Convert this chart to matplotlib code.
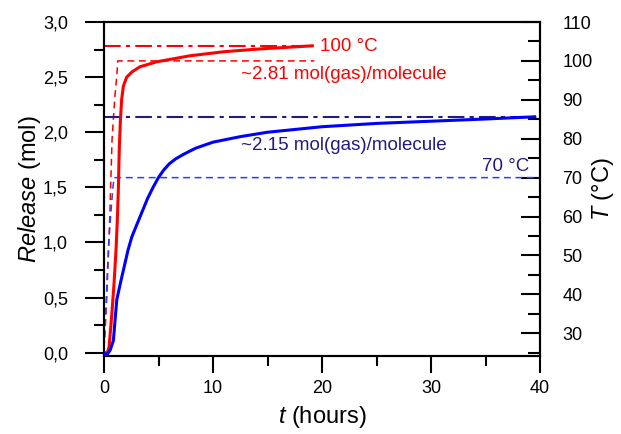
import matplotlib
matplotlib.use('Agg')
from matplotlib import pyplot as plt
from matplotlib.ticker import MultipleLocator, FuncFormatter

plt.rcParams['font.family'] = ['Liberation Sans', 'DejaVu Sans']
plt.rcParams['mathtext.fontset'] = 'custom'
plt.rcParams['mathtext.it'] = 'Liberation Sans:italic'

# release curves (mol) vs time (hours)
t_100 = [0, 0.3, 0.46, 0.7, 0.92, 1.1, 1.22, 1.32, 1.4, 1.5, 1.62, 1.78, 2.08, 2.6,
         3.3, 4.84, 7.91, 10.97, 14.04, 17.1, 19.1]
rel_100 = [0, 0.0, 0.05, 0.33, 0.63, 0.93, 1.2, 1.5, 1.85, 2.1, 2.3, 2.42, 2.5, 2.55,
           2.594, 2.639, 2.694, 2.73, 2.754, 2.772, 2.784]

t_70 = [0, 0.25, 0.55, 0.86, 1.0, 1.17, 1.5, 1.78, 2.2, 2.55, 3.0, 3.5, 4.0, 4.5,
        5.0, 5.5, 6.0, 6.6, 7.3, 8.4, 10, 12.5, 15, 20, 25, 30, 35, 39.5]
rel_70 = [0, -0.02, 0.02, 0.11, 0.28, 0.48, 0.63, 0.75, 0.93, 1.05, 1.16, 1.28, 1.40, 1.50,
          1.59, 1.66, 1.715, 1.76, 1.80, 1.855, 1.91, 1.96, 2.0, 2.05, 2.08, 2.10, 2.12, 2.14]

# temperature profiles (°C)
t_T100 = [0, 0.2, 0.46, 0.74, 1.0, 1.17, 1.26, 19.3]
T_100 = [26, 36, 54, 80, 91, 96, 100, 100]
t_T70 = [0, 0.2, 0.4, 0.6, 0.8, 0.92, 40]
T_70 = [26, 38, 52, 60, 67, 70, 70]

# plateau levels
plateau_100 = 2.78
plateau_100_end = 19.3
plateau_70 = 2.14

red = '#ff0000'
blue = '#0000ff'
navy = '#231c7c'

fig = plt.figure(figsize=(6.21, 4.34), dpi=100)
ax = fig.add_axes([0.1675, 0.1797, 0.7021, 0.7696])
ax2 = ax.twinx()

ax.plot([0, plateau_100_end], [plateau_100] * 2, color=red, lw=1.5,
        linestyle=(0, (8, 2.5, 2, 2.5)))
ax.plot([0, 40], [plateau_70] * 2, color=navy, lw=1.5,
        linestyle=(0, (8, 2.5, 2, 2.5)))
ax2.plot(t_T100, T_100, color=red, lw=1.1, linestyle=(0, (4.5, 3)))
ax2.plot(t_T70, T_70, color='#2a3cff', lw=1.1, linestyle=(0, (4.5, 3)))
ax.plot(t_100, rel_100, color=red, lw=2.2, zorder=5)
ax.plot(t_70, rel_70, color=blue, lw=2.2, zorder=5)
ax.set_zorder(ax2.get_zorder() + 1)
ax.patch.set_visible(False)

ax.set_xlim(0, 40)
ax.set_ylim(-0.03, 3.0)
ax2.set_ylim(24.15, 110)

for a in (ax, ax2):
    for s in a.spines.values():
        s.set_linewidth(1.5)

ax.xaxis.set_major_locator(MultipleLocator(10))
ax.xaxis.set_minor_locator(MultipleLocator(5))
ax.yaxis.set_major_locator(MultipleLocator(0.5))
ax.yaxis.set_minor_locator(MultipleLocator(0.25))
ax.yaxis.set_major_formatter(FuncFormatter(lambda v, p: f'{v:.1f}'.replace('.', ',')))
ax.tick_params(axis='x', which='major', direction='out', length=12, width=1.5,
               labelsize=13, pad=5, top=False)
ax.tick_params(axis='x', which='minor', direction='out', length=7, width=1.5, top=False)
ax.tick_params(axis='y', which='major', direction='out', length=14, width=1.5,
               labelsize=13, pad=12, right=False)
ax.tick_params(axis='y', which='minor', direction='out', length=7, width=1.5, right=False)

ax2.yaxis.set_minor_locator(MultipleLocator(5))
ax2.set_yticks(range(30, 111, 10))
ax2.tick_params(axis='y', which='major', direction='in', length=14, width=1.5,
                labelsize=13, pad=16)
ax2.tick_params(axis='y', which='minor', direction='in', length=8.5, width=1.5)

ax.set_xlabel('$t$ (hours)', fontsize=17, labelpad=5)
ax.set_ylabel('$Release$ (mol)', fontsize=17, labelpad=0)
ax2.set_ylabel('$T$ (°C)', fontsize=17, labelpad=-2)

ax.text(19.8, 2.78, '100 °C', color=red, fontsize=13.5, va='center', ha='left')
ax.text(12.6, 2.52, '~2.81 mol(gas)/molecule', color=red, fontsize=13.5, va='center')
ax.text(12.6, 1.88, '~2.15 mol(gas)/molecule', color=navy, fontsize=13.5, va='center')
ax.text(39.0, 1.69, '70 °C', color=navy, fontsize=13.5, va='center', ha='right')

fig.savefig('out.png', dpi=100)
